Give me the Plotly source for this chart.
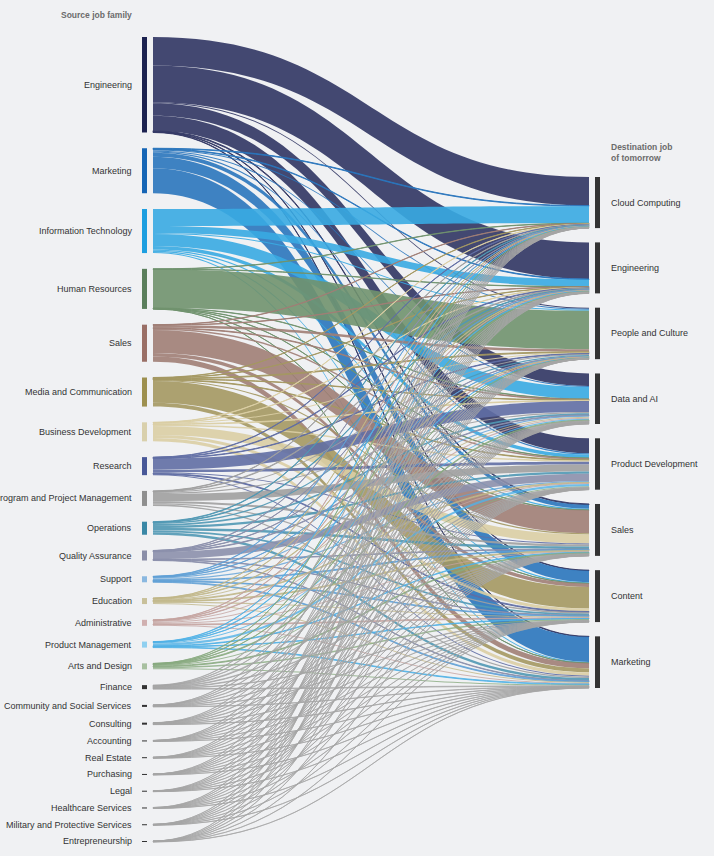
import plotly.graph_objects as go

W, H = 714, 856

sources = ['Engineering', 'Marketing', 'Information Technology', 'Human Resources', 'Sales',
           'Media and Communication', 'Business Development', 'Research',
           'Program and Project Management', 'Operations', 'Quality Assurance', 'Support',
           'Education', 'Administrative', 'Product Management', 'Arts and Design', 'Finance',
           'Community and Social Services', 'Consulting', 'Accounting', 'Real Estate',
           'Purchasing', 'Legal', 'Healthcare Services', 'Military and Protective Services',
           'Entrepreneurship']
targets = ['Cloud Computing', 'Engineering', 'People and Culture', 'Data and AI',
           'Product Development', 'Sales', 'Content', 'Marketing']

# flow from each source job family (same order as `sources`) into each destination
to_cloud = [28.5, 0.6, 17, 0.3, 0.3, 0.3, 0.3, 0.4, 0.4, 0.5, 0.2, 0.3, 0.2, 0.2, 0.3, 0.2,
            0.3, 0.1, 0.1, 0.05, 0.1, 0.05, 0.1, 0.05, 0.1, 0.05]
to_engineering = [36.5, 0.6, 7, 0.3, 0.3, 0.3, 0.3, 0.6, 0.6, 0.6, 0.3, 0.5, 0.3, 0.4, 0.5, 0.3,
                  0.4, 0.2, 0.2, 0.1, 0.1, 0.1, 0.1, 0.1, 0.1, 0.1]
to_people = [1, 1, 1, 38.5, 2.5, 0.8, 1, 0.5, 1.0, 1.3, 0.3, 0.2, 0.6, 0.5, 0.1, 0.2,
             0.2, 0.2, 0.1, 0.05, 0.05, 0.05, 0.05, 0.1, 0.05, 0.05]
to_data_ai = [12.5, 1, 12, 0.3, 0.6, 0.4, 0.6, 11, 1.2, 1.8, 0.6, 1.2, 1.0, 1.1, 1.1, 0.9,
              0.9, 0.4, 0.4, 0.25, 0.2, 0.2, 0.2, 0.2, 0.2, 0.2]
to_product_dev = [15, 1.2, 3.5, 0.2, 1.5, 0.6, 1.5, 2.7, 7, 2.2, 7.2, 1.3, 0.8, 1.0, 2.2, 1.0,
                  0.6, 0.3, 0.4, 0.15, 0.15, 0.2, 0.15, 0.15, 0.15, 0.15]
to_sales = [0.8, 4, 1.2, 0.2, 23, 1.2, 9, 1, 2.1, 2.4, 0.5, 0.9, 0.9, 1.0, 0.6, 0.8,
            0.6, 0.3, 0.3, 0.15, 0.15, 0.15, 0.15, 0.1, 0.15, 0.15]
to_content = [0.5, 11.5, 1.2, 0.1, 3.5, 21.5, 3, 0.8, 1.3, 1.7, 0.4, 0.7, 1.2, 0.8, 0.5, 1.5,
              0.4, 0.2, 0.2, 0.1, 0.1, 0.1, 0.1, 0.15, 0.1, 0.15]
to_marketing = [0.5, 25, 1.1, 0.1, 5.3, 3.9, 3.3, 1, 1.4, 2.5, 0.5, 0.9, 1.0, 1.0, 0.7, 1.1,
                0.6, 0.3, 0.3, 0.15, 0.15, 0.15, 0.15, 0.15, 0.15, 0.15]
flows = [to_cloud, to_engineering, to_people, to_data_ai, to_product_dev, to_sales,
         to_content, to_marketing]

node_colors = ['#1c2250', '#1565b5', '#1e9fe0', '#5b7f5c', '#9a6f66', '#9d904f', '#d9d0ac',
               '#485898', '#8f8f8f', '#3a88a6', '#8a8ea8', '#8ab8e0', '#c8c09a', '#d0b0b0',
               '#8fd0f0', '#a8c0a0'] + ['#333333'] * 10
link_colors = ['rgba(52,58,102,0.92)', 'rgba(42,118,188,0.9)', 'rgba(56,170,226,0.9)',
               'rgba(112,146,110,0.9)', 'rgba(160,126,118,0.9)', 'rgba(164,152,98,0.9)',
               'rgba(218,206,164,0.9)', 'rgba(96,110,164,0.9)', 'rgba(160,160,160,0.9)',
               'rgba(80,152,180,0.9)', 'rgba(140,144,172,0.9)', 'rgba(96,160,214,0.8)',
               'rgba(192,182,136,0.8)', 'rgba(196,164,160,0.8)', 'rgba(80,178,230,0.8)',
               'rgba(136,170,128,0.8)'] + ['rgba(165,165,165,0.7)'] * 10

PAD = 17.8
src_tot = [sum(col[i] for col in flows) for i in range(len(sources))]
dst_tot = [sum(col) for col in flows]
ky = min((H - (len(sources) - 1) * PAD) / sum(src_tot),
         (H - (len(targets) - 1) * PAD) / sum(dst_tot))


def centres(values, top, bottom):
    gap = (bottom - top - ky * sum(values)) / (len(values) - 1)
    out, y = [], top
    for v in values:
        out.append(y + v * ky / 2)
        y += v * ky + gap
    return out


src_y = centres(src_tot, 37, 842)
dst_y = centres(dst_tot, 177, 688)
node_y = [c / H for c in src_y + dst_y]
labels = sources + targets

src_idx, dst_idx, vals, cols = [], [], [], []
for i in range(len(sources)):
    for j, col in enumerate(flows):
        src_idx.append(i)
        dst_idx.append(len(sources) + j)
        vals.append(col[i])
        cols.append(link_colors[i])

fig = go.Figure()
# ribbons: attached to wide invisible nodes so they stop short of the coloured bars
fig.add_trace(go.Sankey(
    arrangement='fixed',
    domain=dict(x=[0, 1], y=[0, 1]),
    textfont=dict(color='rgba(0,0,0,0)', size=1),
    hoverinfo='skip',
    node=dict(
        label=labels,
        color='rgba(0,0,0,0)',
        x=[147.5 / W] * len(sources) + [594.5 / W] * len(targets),
        y=node_y, pad=PAD, thickness=11, line=dict(width=0),
    ),
    link=dict(source=src_idx, target=dst_idx, value=vals, color=cols, line=dict(width=0)),
))
# the visible node bars, same flows with invisible ribbons
fig.add_trace(go.Sankey(
    arrangement='fixed',
    domain=dict(x=[0, 1], y=[0, 1]),
    textfont=dict(color='rgba(0,0,0,0)', size=1),
    node=dict(
        label=labels,
        color=node_colors + ['#333333'] * len(targets),
        x=[144.5 / W] * len(sources) + [597.5 / W] * len(targets),
        y=node_y, pad=PAD, thickness=5, line=dict(width=0),
    ),
    link=dict(source=src_idx, target=dst_idx, value=vals,
              color='rgba(0,0,0,0)', line=dict(width=0)),
))

annotations = []
for name, y in zip(sources, src_y):
    annotations.append(dict(x=134 / W, y=1 - y / H, text=name, xanchor='right',
                            yanchor='middle', showarrow=False))
for name, y in zip(targets, dst_y):
    annotations.append(dict(x=609 / W, y=1 - y / H, text=name, xanchor='left',
                            yanchor='middle', showarrow=False))
annotations.append(dict(x=134 / W, y=1 - 15 / H, text='<b>Source job family</b>',
                        xanchor='right', yanchor='middle', showarrow=False,
                        font=dict(color='#6b6b6b', size=8.5)))
annotations.append(dict(x=609 / W, y=1 - 152 / H, text='<b>Destination job<br>of tomorrow</b>',
                        xanchor='left', yanchor='middle', align='left', showarrow=False,
                        font=dict(color='#6b6b6b', size=8.5)))

fig.update_layout(
    width=W, height=H,
    margin=dict(l=0, r=0, t=0, b=0),
    paper_bgcolor='#f0f1f3',
    font=dict(family='Liberation Sans, Arial, sans-serif', size=9, color='#333333'),
    annotations=annotations,
)
fig.write_html('out.html', config={'displayModeBar': False},
               post_script="document.body.style.margin='0';")
